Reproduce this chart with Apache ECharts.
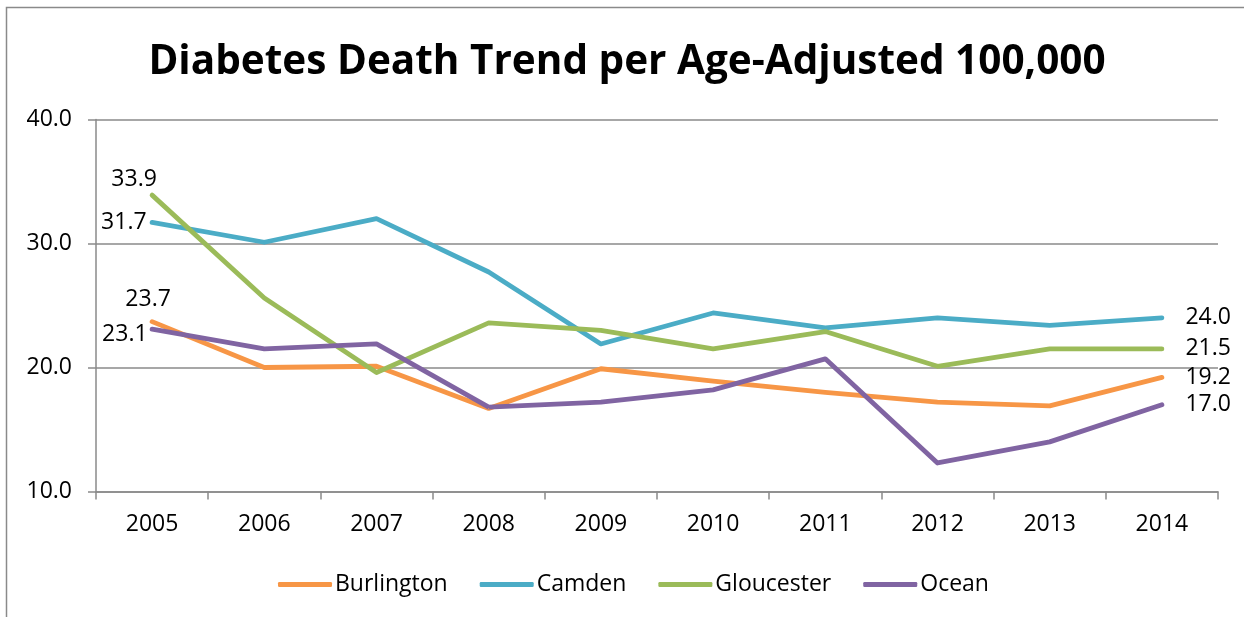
<!DOCTYPE html>
<html>
<head>
<meta charset="utf-8">
<script src="https://cdn.jsdelivr.net/npm/echarts@6/dist/echarts.min.js"></script>
<style>
html,body{margin:0;padding:0;background:#fff;}
#chart{width:1244px;height:617px;}
</style>
</head>
<body>
<div id="chart"></div>
<script>
const years = ['2005','2006','2007','2008','2009','2010','2011','2012','2013','2014'];
const burlington = [23.7, 20.0, 20.1, 16.7, 19.9, 18.9, 18.0, 17.2, 16.9, 19.2];
const camden     = [31.7, 30.1, 32.0, 27.7, 21.9, 24.4, 23.2, 24.0, 23.4, 24.0];
const gloucester = [33.9, 25.6, 19.6, 23.6, 23.0, 21.5, 22.9, 20.1, 21.5, 21.5];
const ocean      = [23.1, 21.5, 21.9, 16.8, 17.2, 18.2, 20.7, 12.3, 14.0, 17.0];
const seriesNames = ['Burlington','Camden','Gloucester','Ocean'];
const colors = ['#F79646','#4BACC6','#9BBB59','#8064A2'];

const FONT = '"Open Sans", "Noto Sans", sans-serif';
const FS = 23;
const labelBase = {show:true, color:'#000', fontFamily:FONT, fontSize:FS, formatter:(p)=>p.value.toFixed(1)};

const firstLabels = [
  {position:'top', distance:10, offset:[-4,0]},   // Burlington
  {position:'left', distance:5, offset:[0,0]},    // Camden
  {position:'top', distance:4, offset:[-18,0]},   // Gloucester
  {position:'left', distance:4, offset:[0,5]}     // Ocean
];

function build(values, idx){
  return values.map((v,i)=>{
    if(i===0) return {value:v, label:Object.assign({}, labelBase, firstLabels[idx])};
    if(i===values.length-1) return {value:v, label:Object.assign({}, labelBase, {position:'right', distance:23})};
    return {value:v};
  });
}

const allData = [burlington, camden, gloucester, ocean];

const chart = echarts.init(document.getElementById('chart'), null, {renderer:'canvas'});
chart.setOption({
  animation:false,
  backgroundColor:'#fff',
  graphic:[{
    type:'rect', shape:{x:6.5, y:7.5, width:1400, height:800},
    style:{fill:'none', stroke:'#8a8a8a', lineWidth:1.5}, silent:true, z:-1
  }],
  title:{
    text:'Diabetes Death Trend per Age-Adjusted 100,000',
    left:622, top:37, textAlign:'center',
    textStyle:{fontFamily:FONT, fontWeight:'bold', fontSize:40.5, color:'#000'}
  },
  legend:{
    data:seriesNames, bottom:16, left:273,
    icon:'roundRect', itemWidth:54, itemHeight:5, itemGap:32,
    textStyle:{fontFamily:FONT, fontSize:FS, color:'#000', padding:[0,0,0,-2]}
  },
  grid:{left:96, right:26, top:119.5, bottom:125.5, containLabel:false},
  xAxis:{
    type:'category', data:years, boundaryGap:true,
    axisLine:{show:true, lineStyle:{color:'#8a8a8a', width:1.5}},
    axisTick:{show:true, interval:0, length:8, lineStyle:{color:'#8a8a8a', width:1.5}},
    axisLabel:{color:'#000', fontFamily:FONT, fontSize:FS, margin:21, interval:0},
    splitLine:{show:false}
  },
  yAxis:{
    type:'value', min:10, max:40, interval:10,
    axisLine:{show:true, lineStyle:{color:'#8a8a8a', width:1.5}},
    axisTick:{show:true, inside:false, length:8, lineStyle:{color:'#8a8a8a', width:1.5}},
    axisLabel:{color:'#000', fontFamily:FONT, fontSize:FS, margin:24, formatter:(v)=>v.toFixed(1)},
    splitLine:{show:true, lineStyle:{color:'#8a8a8a', width:1.5}}
  },
  series: seriesNames.map((n,i)=>({
    name:n, type:'line', data:build(allData[i], i),
    color:colors[i],
    lineStyle:{width:4.8, color:colors[i], cap:'round', join:'round'},
    itemStyle:{color:colors[i]},
    showSymbol:true, symbol:'circle', symbolSize:1,
    emphasis:{disabled:true}, silent:true
  }))
});
</script>
</body>
</html>
